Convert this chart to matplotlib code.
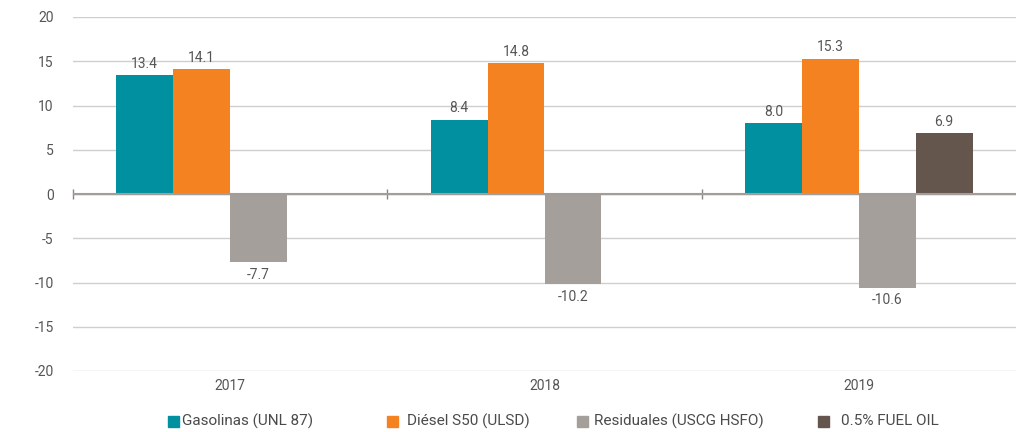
import matplotlib

matplotlib.use("Agg")
import matplotlib.pyplot as plt
import numpy as np
from matplotlib.patches import Rectangle

years = ["2017", "2018", "2019"]
series = ["Gasolinas (UNL 87)", "Diésel S50 (ULSD)", "Residuales (USCG HSFO)", "0.5% FUEL OIL"]
gasolinas = [13.4, 8.4, 8.0]
diesel = [14.1, 14.8, 15.3]
residuales = [-7.7, -10.2, -10.6]
fuel_oil = [np.nan, np.nan, 6.9]
yticks = [-20, -15, -10, -5, 0, 5, 10, 15, 20]

COLORS = ["#0090A0", "#F58220", "#A59F9B", "#64554D"]
TXT = "#555555"
W, H = 1016, 432

plt.rcParams.update({"font.family": ["Roboto", "DejaVu Sans"], "font.size": 10})

fig = plt.figure(figsize=(W / 100, H / 100), dpi=100)
ax = fig.add_axes([73 / W, 1 - 371 / H, 1 - 73 / W, (371 - 17) / H])

x = np.arange(len(years))
w = 0.181
offsets = [-1.5, -0.5, 0.5, 1.5]
for vals, off, c in zip([gasolinas, diesel, residuales, fuel_oil], offsets, COLORS):
    bars = ax.bar(x + off * w, vals, w, color=c, zorder=3)
    for r, v in zip(bars, vals):
        if np.isnan(v):
            continue
        xc = r.get_x() + r.get_width() / 2
        if v >= 0:
            ax.annotate(f"{v:.1f}", (xc, v), xytext=(0, 3), textcoords="offset points",
                        ha="center", va="bottom", color=TXT, fontsize=10)
        else:
            ax.annotate(f"{v:.1f}", (xc, v), xytext=(0, -4), textcoords="offset points",
                        ha="center", va="top", color=TXT, fontsize=10)

ax.set_xlim(-0.5, 2.5)
ax.set_ylim(-20, 20)
ax.set_yticks(yticks)
ax.set_yticklabels([str(t) for t in yticks], color=TXT)
ax.tick_params(axis="y", length=0, pad=14)
ax.set_xticks(x)
ax.set_xticklabels(years, color=TXT)
ax.tick_params(axis="x", length=0, pad=6)
ax.grid(axis="y", color="#CFCFCF", lw=1.0, zorder=0)
ax.set_axisbelow(True)
for s in ax.spines.values():
    s.set_visible(False)

# zero line with category-boundary ticks
ax.axhline(0, color="#A39D9A", lw=1.5, zorder=4)
sec = ax.secondary_xaxis(0.5)
sec.set_xticks([-0.5, 0.5, 1.5])
sec.set_xticklabels([])
sec.tick_params(length=7, direction="inout", color="#8A8482", width=1)
sec.spines["bottom"].set_visible(False)

# legend entries placed by hand (uneven spacing in the original)
leg_x = [168, 387, 577, 818]
leg_gap = [3, 9, 6, 12]
yc = 1 - 421 / H
sq = 11
for lx, gap, c, name in zip(leg_x, leg_gap, COLORS, series):
    fig.patches.append(Rectangle((lx / W, yc - sq / 2 / H), sq / W, sq / H,
                                 transform=fig.transFigure, color=c))
    fig.text((lx + sq + gap) / W, yc, name, ha="left", va="center",
             fontsize=11, color="#4a4a4a")

fig.savefig("out.png", dpi=100, facecolor="white")
